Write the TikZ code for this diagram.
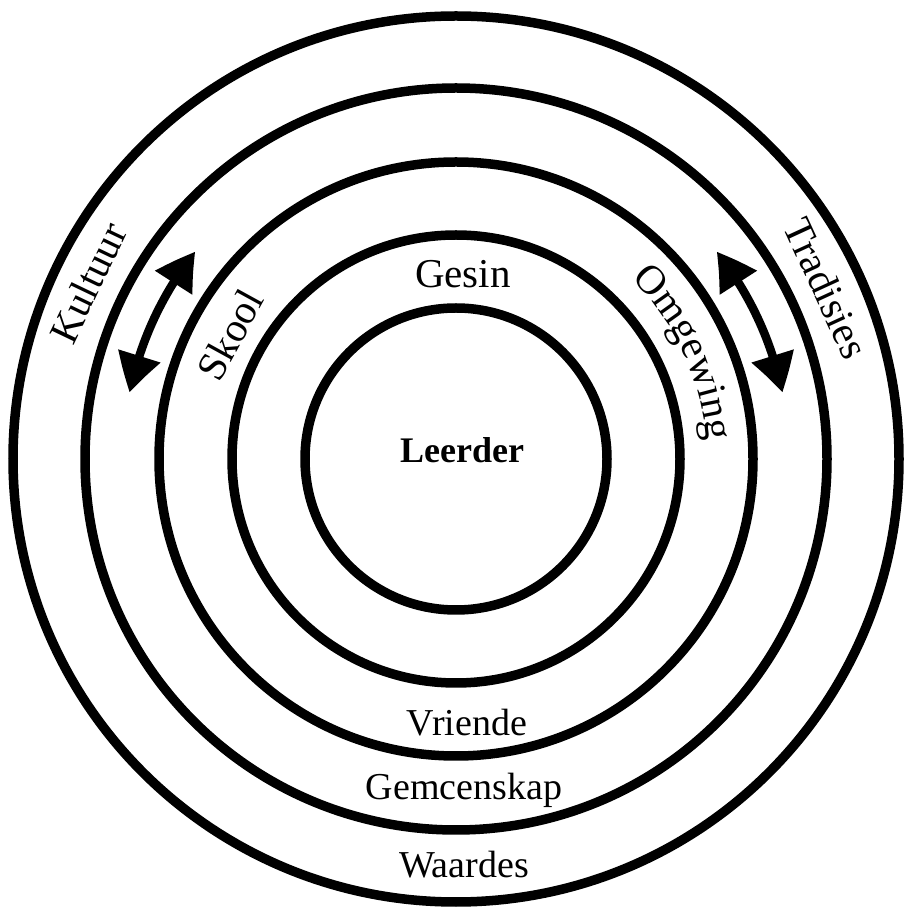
\documentclass[tikz,border=0pt]{standalone}
\usepackage{fontspec}
\setmainfont{Liberation Serif}
\usetikzlibrary{arrows.meta,bending,decorations.text,calc}
\begin{document}
\begin{tikzpicture}[x=1pt,y=1pt,
  ring/.style={line width=9.5pt},
  lbl/.style={font=\fontsize{41}{41}\selectfont, inner sep=0pt},
  lblsmall/.style={font=\fontsize{38}{38}\selectfont, inner sep=0pt, anchor=base},
  lblbold/.style={font=\bfseries\fontsize{36}{36}\selectfont, inner sep=0pt, anchor=base},
  dblarrow/.style={line width=8.5pt, {Triangle[width=42pt,length=38pt,bend]}-{Triangle[width=42pt,length=38pt,bend]}}
]
\useasboundingbox (0,0) rectangle (903,911);
\coordinate (c) at (456,452);
\foreach \r in {151,224,297,371,443} \draw[ring] (c) circle[radius=\r];

\draw[dblarrow] ($(c)+(141.5:333)$) arc[start angle=141.5, end angle=168.5, radius=333];
\draw[dblarrow] ($(c)+(38.5:333)$) arc[start angle=38.5, end angle=11.5, radius=333];

\node[lblbold] (leerder) at (462,448) {Leerder};
\node[lbl, anchor=base] (gesin) at (463,623) {Gesin};
\node[lblsmall] (vriende) at (467,175) {Vriende};
\node[lblsmall] (gemeenskap) at (464,111) {Gemcenskap};
\node[lblsmall] (waardes) at (464,34) {Waardes};
\node[lbl, rotate=64.4] (kultuur) at ($(c)+(154.4:408)$) {Kultuur};
\node[lbl, rotate=-65.3] (tradisies) at ($(c)+(24.7:408)$) {Tradisies};
\node[lbl, rotate=61.2] (skool) at ($(c)+(151.2:258)$) {Skool};
\path[decorate, decoration={text along path, text={|\fontsize{41}{41}\selectfont|Omgewing}, text align=center}]
  ($(c)+(60:251)$) arc[start angle=60, end angle=-10, radius=251];
\end{tikzpicture}
\end{document}
